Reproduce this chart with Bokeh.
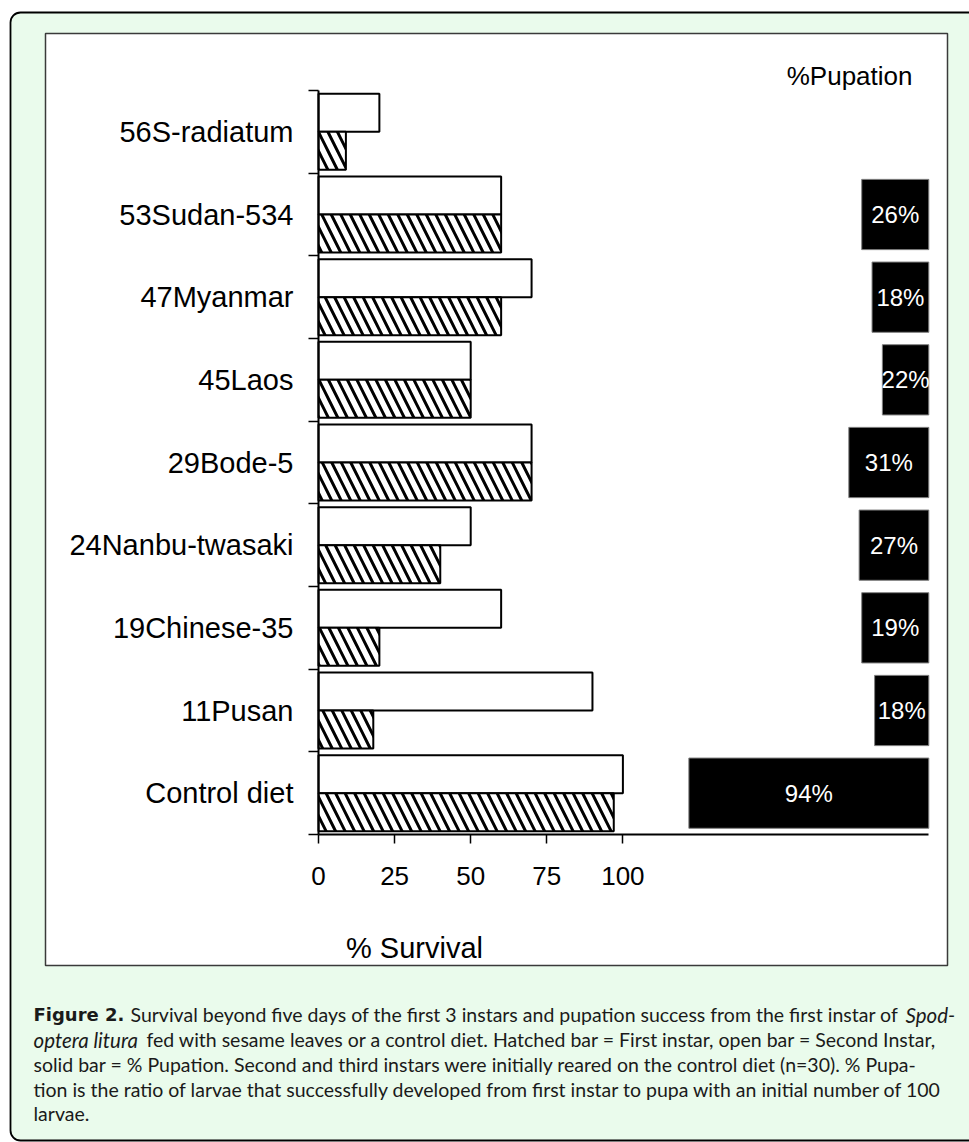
import numpy as np
from bokeh.plotting import figure
from bokeh.models import (Range1d, LinearAxis, FixedTicker, BoxAnnotation, Label,
                          ColumnDataSource)
from bokeh.transform import dodge
from bokeh.core.properties import value
from bokeh.embed import file_html
from bokeh.resources import INLINE

# ---------------- data (top to bottom) ----------------
categories = ["56S-radiatum", "53Sudan-534", "47Myanmar", "45Laos", "29Bode-5",
              "24Nanbu-twasaki", "19Chinese-35", "11Pusan", "Control diet"]
second_instar = [20, 60, 70, 50, 70, 50, 60, 90, 100]   # open bars
first_instar = [9, 60, 60, 50, 70, 40, 20, 18, 97]      # hatched bars
pupation_bar = [None, 26, 22, 18, 31, 27, 26, 21, 93]   # solid bars (length as drawn)
pupation_labels = ["", "26%", "18%", "22%", "31%", "27%", "19%", "18%", "94%"]
x_ticks = [0, 25, 50, 75, 100]

caption_lines = [
    [("Figure 2.", "bold", 33), ("Survival beyond five days of the first 3 instars and pupation success from the first instar of", "normal", 130), ("Spod-", "italic", 905)],
    [("optera litura", "italic", 33), ("fed with sesame leaves or a control diet. Hatched bar = First instar, open bar = Second Instar,", "normal", 146)],
    [("solid bar = % Pupation. Second and third instars were initially reared on the control diet (n=30). % Pupa-", "normal", 33)],
    [("tion is the ratio of larvae that successfully developed from first instar to pupa with an initial number of 100", "normal", 33)],
    [("larvae.", "normal", 33)],
]
caption_baselines = [1014.3, 1039, 1063.8, 1088.5, 1113.3]

# ---------------- layout (page pixels) ----------------
W, H = 969, 1142
X0, X100 = 318.0, 622.4          # pixel of survival 0 and 100
AX_TOP, AX_BOT = 90.0, 834.0     # category block top / bottom
PUP_RIGHT, PUP_PX = 928.3, 2.58  # pupation bars: right edge and px per %
n = len(categories)
GREEN = "#EAFBEC"
FONT = "Liberation Sans"
PXU = (X100 - X0) / 100.0
CAT_PX = (AX_BOT - AX_TOP) / n


def dx(px):
    return (px - X0) / PXU


def dy(py):
    return (n - 0.5) - (py - AX_TOP) / CAT_PX


p = figure(width=W, height=H, output_backend="svg", toolbar_location=None,
           x_range=Range1d(dx(0), dx(W)), y_range=Range1d(dy(H), dy(0)),
           x_axis_type=None, y_axis_type=None, min_border=0)
p.background_fill_color = "white"
p.border_fill_color = "white"
p.outline_line_color = None
p.extra_x_ranges = {"pup": Range1d((PUP_RIGHT - 0) / PUP_PX, (PUP_RIGHT - W) / PUP_PX)}

ypos = np.arange(n)[::-1]
pup_vals = np.array([np.nan if v is None else v for v in pupation_bar], dtype=float)
src = ColumnDataSource(dict(y=ypos, cat=categories, open=second_instar, hatch=first_instar,
                            pup=pup_vals, pup_mid=pup_vals / 2, pup_lab=pupation_labels))

# ---------------- decorations (boxes behind everything) ----------------
p.add_layout(BoxAnnotation(left=dx(10), right=dx(1010), top=dy(12), bottom=dy(1140),
                           fill_color=GREEN, fill_alpha=1, line_color="black", line_alpha=1,
                           line_width=1.8, border_radius=10, level="underlay"))
p.add_layout(BoxAnnotation(left=dx(45), right=dx(947), top=dy(33), bottom=dy(965),
                           fill_color="white", fill_alpha=1, line_color="#3a3a3a",
                           line_alpha=1, line_width=1.5, level="underlay"))

# ---------------- bars ----------------
p.hbar(y=dodge("y", 0.23), left=0, right="open", height=0.46, source=src,
       fill_color="white", line_color="black", line_width=2)
p.hbar(y=dodge("y", -0.23), left=0, right="hatch", height=0.46, source=src,
       fill_color="white", line_color="black", line_width=2,
       hatch_pattern="left_diagonal_line", hatch_color="black", hatch_scale=19, hatch_weight=3)
p.hbar(y="y", left=0, right="pup", height=0.85, source=src, x_range_name="pup",
       fill_color="black", line_color="#808080", line_width=1)
p.text(x="pup_mid", y="y", text="pup_lab", source=src, x_range_name="pup",
       text_color="white", text_align="center", text_baseline="middle",
       text_font=value(FONT), text_font_size="24px")

# ---------------- axes (fixed inside the canvas) ----------------
xaxis = LinearAxis(ticker=FixedTicker(ticks=x_ticks), fixed_location=-0.5,
                   bounds=(0, dx(928)), major_tick_in=0, major_tick_out=9,
                   minor_tick_in=0, minor_tick_out=0, axis_line_width=2,
                   major_tick_line_width=1.5, major_label_text_font=FONT,
                   major_label_text_font_size="26px", major_label_text_color="black",
                   major_label_standoff=23)
p.add_layout(xaxis, "below")

yaxis = LinearAxis(ticker=FixedTicker(ticks=[int(v) for v in ypos],
                                      minor_ticks=[float(v) - 0.5 for v in range(n + 1)]),
                   fixed_location=0, bounds=(-0.5, n - 0.5),
                   major_label_overrides={int(yv): c for yv, c in zip(ypos, categories)},
                   major_tick_in=0, major_tick_out=0, major_tick_line_color=None,
                   minor_tick_in=0, minor_tick_out=10, minor_tick_line_width=1.5,
                   minor_tick_line_color="black", axis_line_width=2,
                   major_label_standoff=15, major_label_text_font=FONT,
                   major_label_text_font_size="29px", major_label_text_color="black")
p.add_layout(yaxis, "left")

# ---------------- texts ----------------
p.add_layout(Label(x=dx(912), y=dy(75), text="%Pupation", text_align="right",
                   text_baseline="alphabetic", text_font=FONT, text_font_size="26px",
                   text_color="black"))
p.add_layout(Label(x=dx(414), y=dy(947), text="% Survival", text_align="center",
                   text_baseline="alphabetic", text_font=FONT, text_font_size="29px",
                   text_color="black"))

for segs, base in zip(caption_lines, caption_baselines):
    for txt, style, xpx in segs:
        bold = style == "bold"
        size = "18px" if bold else ("20.5px" if style == "italic" else "19.5px")
        p.add_layout(Label(x=dx(xpx), y=dy(base), text=txt, text_align="left",
                           text_baseline="alphabetic",
                           text_font="DejaVu Sans" if bold else "Lato",
                           text_font_style=style, text_font_size=size,
                           text_color="#1a1a1a"))

open("out.html", "w").write(file_html(p, INLINE))
